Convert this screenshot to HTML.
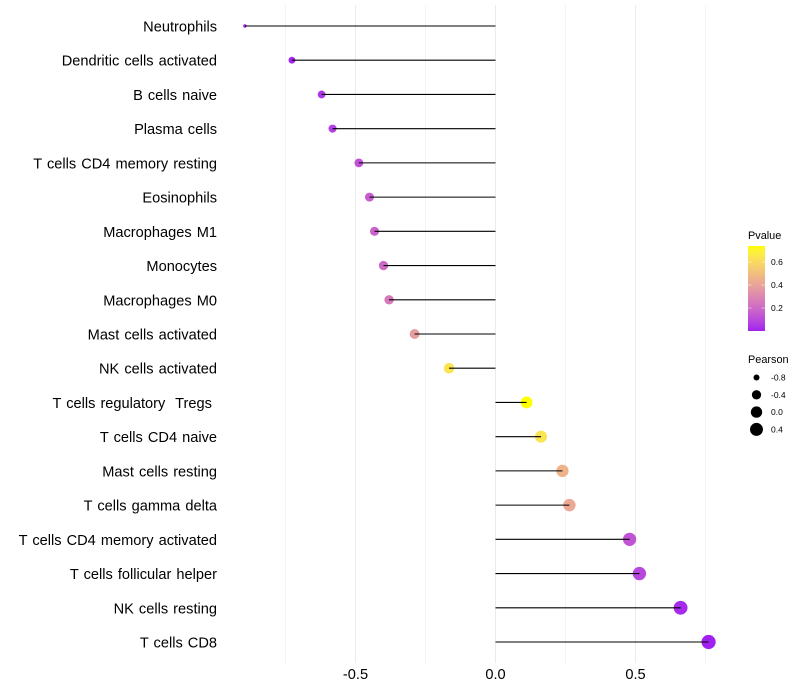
<!DOCTYPE html>
<html lang="en">
<head>
<meta charset="utf-8">
<title>Lollipop chart of immune cell correlation</title>
<style>
html,body{margin:0;padding:0;background:#fff;width:800px;height:700px;overflow:hidden}
svg{display:block;font-family:"Liberation Sans",sans-serif}
text{white-space:pre}
</style>
</head>
<body>
<svg id="chart" width="800" height="700" viewBox="0 0 800 700" xmlns="http://www.w3.org/2000/svg">
  <defs>
    <linearGradient id="pvalue-gradient" x1="0" y1="1" x2="0" y2="0"></linearGradient>
  </defs>
  <rect width="800" height="700" fill="#ffffff"></rect>
  <g id="grid"></g>
  <g id="points"></g>
  <g id="stems"></g>
  <g id="y-labels"></g>
  <g id="x-labels"></g>
  <g id="legend-color">
    <text x="748" y="239" font-size="10.9" fill="#000">Pvalue</text>
    <rect x="748" y="246" width="17" height="85" fill="url(#pvalue-gradient)"></rect>
  </g>
  <g id="legend-size">
    <text x="748" y="363" font-size="10.9" fill="#000">Pearson</text>
  </g>
</svg>
<script>
const categories = ["Neutrophils","Dendritic cells activated","B cells naive","Plasma cells","T cells CD4 memory resting","Eosinophils","Macrophages M1","Monocytes","Macrophages M0","Mast cells activated","NK cells activated","T cells regulatory  Tregs ","T cells CD4 naive","Mast cells resting","T cells gamma delta","T cells CD4 memory activated","T cells follicular helper","NK cells resting","T cells CD8"];
const pearson = [-0.895,-0.727,-0.621,-0.582,-0.488,-0.45,-0.432,-0.4,-0.38,-0.289,-0.166,0.111,0.1625,0.239,0.264,0.479,0.514,0.661,0.761];
const pvalue = [0.0,0.01,0.05,0.07,0.12,0.16,0.18,0.2,0.25,0.38,0.64,0.74,0.64,0.46,0.42,0.13,0.09,0.02,0.0];
const xTicks = [-0.5,0,0.5];
const xTickLabels = ["-0.5","0.0","0.5"];
const xMinorTicks = [-0.75,-0.25,0.25,0.75];
const pvalueTicks = [0.2,0.4,0.6];
const pvalueTickLabels = ["0.2","0.4","0.6"];
const pearsonLegendValues = [-0.8,-0.4,0,0.4];
const pearsonLegendLabels = ["-0.8","-0.4","0.0","0.4"];

const NS = "http://www.w3.org/2000/svg";
const x = v => 495.5 + v * 280;
const y = i => 26 + i * (616 / (categories.length - 1));
const pMin = 0, pMax = 0.74;
const legendP = v => 331 - (v - pMin) / (pMax - pMin) * 85;
const pearsonMin = Math.min(...pearson), pearsonMax = Math.max(...pearson);
const radius = v => 1.7 + 5.4 * Math.sqrt(Math.max(0, (v - pearsonMin) / (pearsonMax - pearsonMin)));

function make(tag, attrs, parent) {
  const el = document.createElementNS(NS, tag);
  for (const k in attrs) el.setAttribute(k, attrs[k]);
  parent.appendChild(el);
  return el;
}
function toLab(rgb) {
  const f = c => { c /= 255; return c > 0.04045 ? Math.pow((c + 0.055) / 1.055, 2.4) : c / 12.92; };
  const [r, g, b] = rgb.map(f);
  const X = (0.4124 * r + 0.3576 * g + 0.1805 * b) / 0.95047;
  const Y = 0.2126 * r + 0.7152 * g + 0.0722 * b;
  const Z = (0.0193 * r + 0.1192 * g + 0.9505 * b) / 1.08883;
  const h = t => t > 0.008856 ? Math.cbrt(t) : 7.787 * t + 16 / 116;
  return [116 * h(Y) - 16, 500 * (h(X) - h(Y)), 200 * (h(Y) - h(Z))];
}
function fromLab(lab) {
  const fy = (lab[0] + 16) / 116, fx = lab[1] / 500 + fy, fz = fy - lab[2] / 200;
  const inv = t => t * t * t > 0.008856 ? t * t * t : (t - 16 / 116) / 7.787;
  const X = inv(fx) * 0.95047, Y = inv(fy), Z = inv(fz) * 1.08883;
  const g = c => { c = Math.max(0, Math.min(1, c)); return Math.round(255 * (c > 0.0031308 ? 1.055 * Math.pow(c, 1 / 2.4) - 0.055 : 12.92 * c)); };
  return "rgb(" + g(3.2406 * X - 1.5372 * Y - 0.4986 * Z) + "," + g(-0.9689 * X + 1.8758 * Y + 0.0415 * Z) + "," + g(0.0557 * X - 0.204 * Y + 1.057 * Z) + ")";
}
const labLow = toLab([160, 32, 240]), labHigh = toLab([255, 255, 0]);
const color = p => {
  const t = Math.max(0, Math.min(1, (p - pMin) / (pMax - pMin)));
  return fromLab(labLow.map((a, i) => a + (labHigh[i] - a) * t));
};

const gridG = document.getElementById("grid");
xMinorTicks.forEach(v => {
  const l = make("line", {x1: x(v), x2: x(v), y1: 5, y2: 663, stroke: "#ebebeb", "stroke-width": 0.6}, gridG);
  
  
});
xTicks.forEach(v => {
  const l = make("line", {x1: x(v), x2: x(v), y1: 5, y2: 663, stroke: "#ebebeb", "stroke-width": 1}, gridG);
  
  
});

const stemsG = document.getElementById("stems");
const pointsG = document.getElementById("points");
const yLabelsG = document.getElementById("y-labels");
categories.forEach((name, i) => {
  const c = make("circle", {cx: x(pearson[i]), cy: y(i), r: radius(pearson[i]), fill: color(pvalue[i])}, pointsG);
  
  
  const s = make("line", {x1: x(0), x2: x(pearson[i]), y1: y(i), y2: y(i), stroke: "#000", "stroke-width": 1.07}, stemsG);
  
  
  const t = make("text", {x: 217, y: y(i) + 5.5, "text-anchor": "end", "font-size": 14.6, "word-spacing": 1, fill: "#000"}, yLabelsG);
  t.textContent = name;
  
  
});

const xLabelsG = document.getElementById("x-labels");
xTicks.forEach((v, i) => {
  const t = make("text", {x: x(v), y: 679, "text-anchor": "middle", "font-size": 14.6, fill: "#000"}, xLabelsG);
  t.textContent = xTickLabels[i];
  
  
});

const grad = document.getElementById("pvalue-gradient");
for (let k = 0; k <= 20; k++) {
  make("stop", {offset: (k / 20), "stop-color": color(pMin + (pMax - pMin) * k / 20)}, grad);
}
const legendColorG = document.getElementById("legend-color");
pvalueTicks.forEach((v, i) => {
  const ty = legendP(v);
  const a = make("line", {x1: 748, x2: 751.4, y1: ty, y2: ty, stroke: "#fff", "stroke-width": 0.5}, legendColorG);
  
  
  const b = make("line", {x1: 761.6, x2: 765, y1: ty, y2: ty, stroke: "#fff", "stroke-width": 0.5}, legendColorG);
  
  
  const t = make("text", {x: 771, y: ty + 3, "font-size": 8.5, fill: "#000"}, legendColorG);
  t.textContent = pvalueTickLabels[i];
  
  
});

const legendSizeG = document.getElementById("legend-size");
pearsonLegendValues.forEach((v, i) => {
  const cy = 377.5 + i * 17.3;
  const c = make("circle", {cx: 756.5, cy: cy, r: radius(v), fill: "#000"}, legendSizeG);
  
  
  const t = make("text", {x: 771, y: cy + 3, "font-size": 8.5, fill: "#000"}, legendSizeG);
  t.textContent = pearsonLegendLabels[i];
  
  
});
</script>
</body>
</html>
